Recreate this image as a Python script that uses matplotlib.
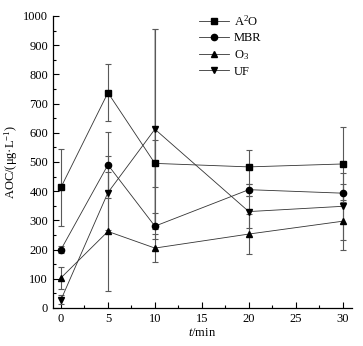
import numpy as np
import matplotlib
matplotlib.use('Agg')
import matplotlib.pyplot as plt
from matplotlib.ticker import MultipleLocator
from matplotlib.lines import Line2D

plt.rcParams['font.family'] = ['Liberation Serif', 'DejaVu Serif']
plt.rcParams['mathtext.fontset'] = 'custom'
plt.rcParams['mathtext.rm'] = 'Liberation Serif'
plt.rcParams['mathtext.it'] = 'Liberation Serif:italic'

t = [0, 5, 10, 20, 30]

a2o = [413, 737, 495, 483, 493]
a2o_err = [132, 97, 80, 58, 125]
mbr = [200, 490, 280, 405, 393]
mbr_err = [12, 112, 45, 20, 30]
o3 = [103, 262, 205, 253, 297]
o3_err = [37, 204, 47, 68, 98]
uf = [28, 395, 612, 330, 348]
uf_err = [15, 127, 342, 55, 115]

series = [
    ('A$^2$O', a2o, a2o_err, 's'),
    ('MBR', mbr, mbr_err, 'o'),
    ('O$_3$', o3, o3_err, '^'),
    ('UF', uf, uf_err, 'v'),
]

fig = plt.figure(figsize=(3.63, 3.46), dpi=100)
ax = fig.add_axes([0.146, 0.110, 0.824, 0.844])

handles = []
for name, y, e, m in series:
    ax.errorbar(t, y, yerr=e, fmt='-', marker=m, color='0.2', lw=0.6,
                ms=4.5, mfc='black', mec='black', ecolor='0.35', elinewidth=0.8,
                capsize=2.5, capthick=0.8)
    handles.append(Line2D([], [], color='0.2', lw=0.6, marker=m, ms=4.5,
                          mfc='black', mec='black', label=name))

# the UF bar at 10 min is drawn lighter in grey
ax.errorbar([t[2]], [uf[2]], yerr=[uf_err[2]], fmt='none', ecolor='0.72',
            elinewidth=1.3, capsize=2.5, capthick=0.8, zorder=1)

ax.set_xlim(-0.85, 31)
ax.set_ylim(0, 1000)
ax.xaxis.set_major_locator(MultipleLocator(5))
ax.xaxis.set_minor_locator(MultipleLocator(2.5))
ax.yaxis.set_major_locator(MultipleLocator(100))
ax.yaxis.set_minor_locator(MultipleLocator(50))
ax.tick_params(which='both', direction='in', labelsize=9, width=0.8)
ax.tick_params(which='major', length=4)
ax.tick_params(which='minor', length=2.5)
ax.tick_params(axis='x', pad=4)
for s in ['top', 'right']:
    ax.spines[s].set_visible(False)
for s in ['left', 'bottom']:
    ax.spines[s].set_linewidth(0.9)

ax.set_xlabel('$\\mathit{t}$/min', fontsize=9, labelpad=1)
ax.set_ylabel('AOC/(μg·L$^{-1}$)', fontsize=9, labelpad=2)

ax.legend(handles=handles, loc='upper left', bbox_to_anchor=(0.45, 1.045),
          frameon=False, fontsize=9, handlelength=2.4, labelspacing=0.3,
          handletextpad=0.4)

plt.savefig('out.png', dpi=100)
